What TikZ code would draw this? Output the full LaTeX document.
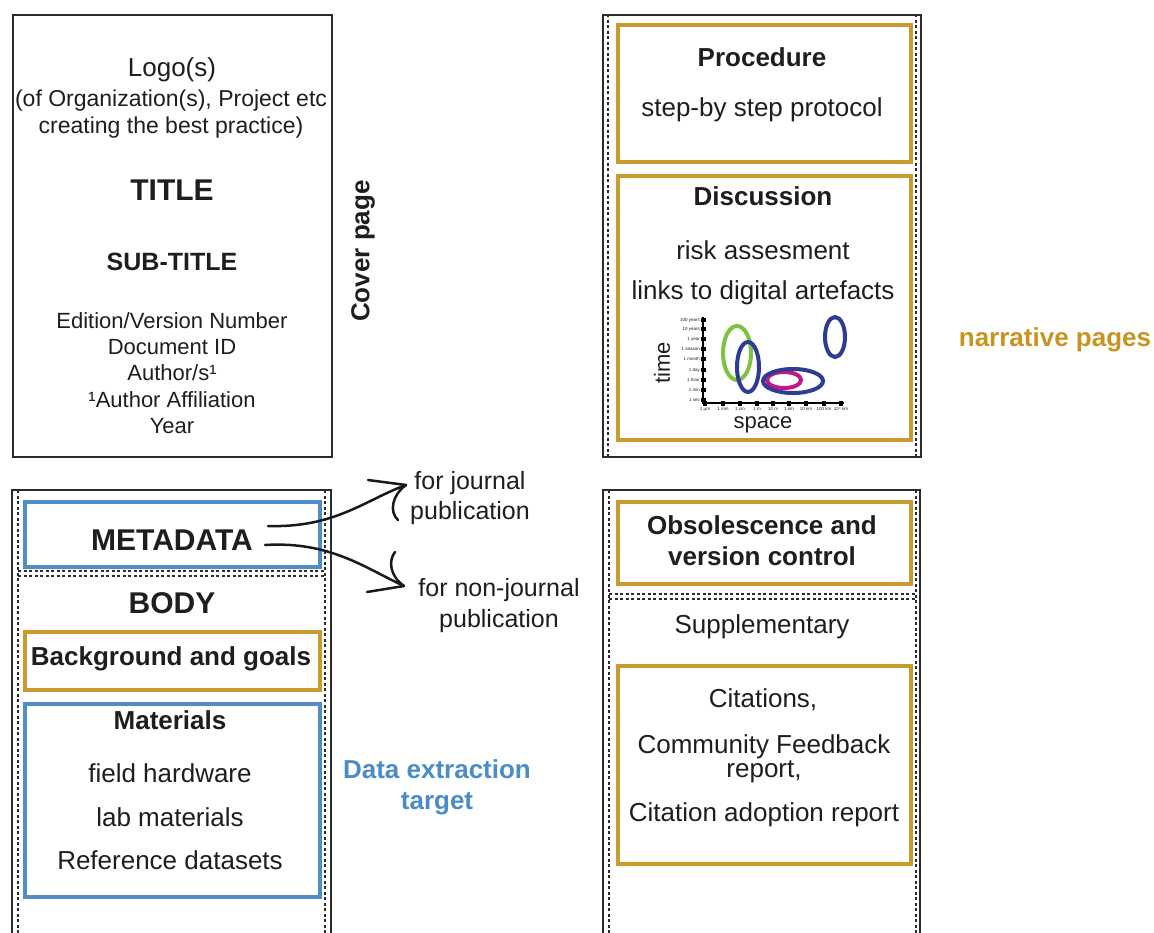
\documentclass[tikz,border=0pt]{standalone}
\usepackage{fontspec}
\setmainfont{Liberation Sans}
\definecolor{gold}{HTML}{C99A2E}
\definecolor{goldtxt}{HTML}{C8941F}
\definecolor{bluebox}{HTML}{4F8DC6}
\definecolor{bluetxt}{HTML}{4A8CC4}
\definecolor{txt}{HTML}{1E1E1E}
\definecolor{ink}{HTML}{2B2B2B}
\definecolor{chgreen}{HTML}{7DC242}
\definecolor{chblue}{HTML}{2E3D93}
\definecolor{chmag}{HTML}{C0178C}
\tikzset{
  outer/.style={draw=ink, line width=2pt},
  dotline/.style={draw=ink, line width=2pt, dash pattern=on 3pt off 2.5pt},
  goldbox/.style={draw=gold, line width=3.5pt, anchor=north west, inner sep=0pt},
  bluebx/.style={draw=bluebox, line width=3.5pt, anchor=north west, inner sep=0pt},
  framebox/.style={outer, anchor=north west, inner sep=0pt},
  t/.style={text=txt, inner sep=0pt, align=center, font=\fontsize{26}{31}\selectfont},
  ts/.style={text=txt, inner sep=0pt, align=center, font=\fontsize{22}{26}\selectfont},
  tb/.style={text=txt, inner sep=0pt, align=center, font=\fontsize{26}{31}\selectfont\bfseries},
  tbig/.style={text=txt, inner sep=0pt, align=center, font=\fontsize{30}{34}\selectfont\bfseries},
  tiny/.style={text=txt, inner sep=0pt, font=\fontsize{4.5}{5}\selectfont},
  arr/.style={draw=black!90, line width=2.5pt, line cap=round},
  ell/.style={line width=4pt},
}
\begin{document}
\begin{tikzpicture}[x=1pt,y=-1pt]
\useasboundingbox (0,0) rectangle (1154,932);
\fill[white] (0,0) rectangle (1154,932);

% ---------- cover page ----------
\node[framebox, minimum width=319pt, minimum height=442pt] (cover) at (12,14) {};
\node[t] (logo) at (172,70) {Logo(s)};
\node[text=txt, inner sep=0pt, align=center, font=\fontsize{23}{27}\selectfont] (logosub) at (171,114) {(of Organization(s), Project etc\\creating the best practice)};
\node[tbig] (title) at (172,190) {TITLE};
\node[text=txt, inner sep=0pt, font=\fontsize{25}{30}\selectfont\bfseries] (subtitle) at (172,262) {SUB-TITLE};
\node[ts, font=\fontsize{22}{26.2}\selectfont] (meta1) at (172,373) {Edition/Version Number\\Document ID\\Author/s¹\\¹Author Affiliation\\Year};
\node[tb, rotate=90] (coverlbl) at (363,251) {Cover page};

% ---------- top right ----------
\node[framebox, minimum width=318pt, minimum height=442pt] (narr) at (602,14) {};
\draw[dotline] (608,14) -- (608,456);
\draw[dotline] (916,14) -- (916,456);
\node[goldbox, minimum width=293pt, minimum height=137pt] (proc) at (616,23) {};
\node[tb] (proct) at (762,57) {Procedure};
\node[t] (procs) at (762,110) {step-by step protocol};
\node[goldbox, minimum width=293pt, minimum height=264pt] (disc) at (616,174) {};
\node[tb] (disct) at (763,196) {Discussion};
\node[t] (risk) at (763,250) {risk assesment};
\node[t] (links) at (763,293) {links to digital artefacts};
\node[text=goldtxt, inner sep=0pt, font=\fontsize{26}{31}\selectfont\bfseries] (narrlbl) at (1055,340) {narrative pages};

% chart
\coordinate (ytop) at (703,317);
\coordinate (orig) at (703,403);
\coordinate (xend) at (844,403);
\draw[line width=2.5pt, black] (ytop) -- (orig) -- (xend);
\foreach \yy/\lab in {320/100 years,329/10 years,339/1 year,349/1 season,359/1 month,370/1 day,380/1 hour,390/1 min,400/1 sec}{
  \fill[black] (700.5,\yy-2) rectangle (705.5,\yy+2);
  \node[tiny, anchor=east] at (700,\yy) {\lab};
}
\foreach \xx/\lab in {705/1 µm,723/1 mm,740/1 cm,757/1 m,773/10 m,789/1 km,806/10 km,824/100 km,841/10⁴ km}{
  \fill[black] (\xx-2,400.5) rectangle (\xx+2,405.5);
  \node[tiny] at (\xx,409) {\lab};
}
\node[ts, rotate=90] (timelbl) at (662,363) {time};
\node[ts] (spacelbl) at (763,425) {space};
\draw[ell, chgreen] (737,353) ellipse [x radius=14pt, y radius=27pt];
\draw[ell, chblue] (748,367) ellipse [x radius=11pt, y radius=25pt];
\draw[ell, chmag] (784,380) ellipse [x radius=17pt, y radius=8pt];
\draw[ell, chblue] (793,381) ellipse [x radius=30pt, y radius=12pt];
\draw[ell, chblue] (835,337) ellipse [x radius=10pt, y radius=20pt];

% ---------- bottom left ----------
\coordinate (blA) at (12,934);
\coordinate (blB) at (12,490);
\coordinate (blC) at (331,490);
\coordinate (blD) at (331,934);
\draw[outer] (blA) -- (blB) -- (blC) -- (blD);
\draw[dotline] (18,490) -- (18,934);
\draw[dotline] (325,490) -- (325,934);
\draw[dotline] (18,571) -- (325,571);
\draw[dotline] (18,576) -- (325,576);
\node[bluebx, minimum width=295pt, minimum height=65pt] (metabox) at (23,500) {};
\node[tbig] (metat) at (172,540) {METADATA};
\node[tbig] (body) at (172,603) {BODY};
\node[goldbox, minimum width=295pt, minimum height=58pt] (bgbox) at (23,630) {};
\node[tb] (bgt) at (171,659) {Background and goals};
\node[bluebx, minimum width=295pt, minimum height=193pt] (matbox) at (23,702) {};
\node[tb] (matt) at (170,720) {Materials};
\node[t] (m1) at (170,773) {field hardware};
\node[t] (m2) at (170,817) {lab materials};
\node[t] (m3) at (170,860) {Reference datasets};
\node[text=bluetxt, inner sep=0pt, align=center, font=\fontsize{26}{31}\selectfont\bfseries] (dext) at (437,787) {Data extraction\\target};

% ---------- metadata arrows ----------
\node[text=txt, inner sep=0pt, align=center, font=\fontsize{25}{30}\selectfont] (jour) at (470,498) {for journal\\publication};
\node[text=txt, inner sep=0pt, align=center, font=\fontsize{25}{31}\selectfont] (nonjour) at (499,606) {for non-journal\\publication};
\coordinate (s1) at (268,526);
\coordinate (e1) at (406,485);
\coordinate (s2) at (265,545);
\coordinate (e2) at (404,586);
\draw[arr] (s1) .. controls (335,528) and (365,500) .. (e1);
\draw[arr] (368,480) -- (e1);
\draw[arr] (e1) .. controls (392,495) and (389,512) .. (398,520);
\draw[arr] (s2) .. controls (330,541) and (365,568) .. (e2);
\draw[arr] (367,592) -- (e2);
\draw[arr] (e2) .. controls (390,576) and (388,561) .. (395,552);

% ---------- bottom right ----------
\coordinate (brA) at (603,934);
\coordinate (brB) at (603,490);
\coordinate (brC) at (920,490);
\coordinate (brD) at (920,934);
\draw[outer] (brA) -- (brB) -- (brC) -- (brD);
\draw[dotline] (609,490) -- (609,934);
\draw[dotline] (916,490) -- (916,934);
\draw[dotline] (609,594) -- (916,594);
\draw[dotline] (609,599) -- (916,599);
\node[goldbox, minimum width=293pt, minimum height=82pt] (obsbox) at (616,500) {};
\node[tb] (obst) at (762,541) {Obsolescence and\\version control};
\node[t] (supp) at (762,627) {Supplementary};
\node[goldbox, minimum width=293pt, minimum height=198pt] (citbox) at (616,664) {};
\node[t] (cit1) at (763,700) {Citations,};
\node[t, font=\fontsize{26}{24}\selectfont] (cit2) at (764,759) {Community Feedback\\report,};
\node[t] (cit3) at (764,815) {Citation adoption report};
\end{tikzpicture}
\end{document}
